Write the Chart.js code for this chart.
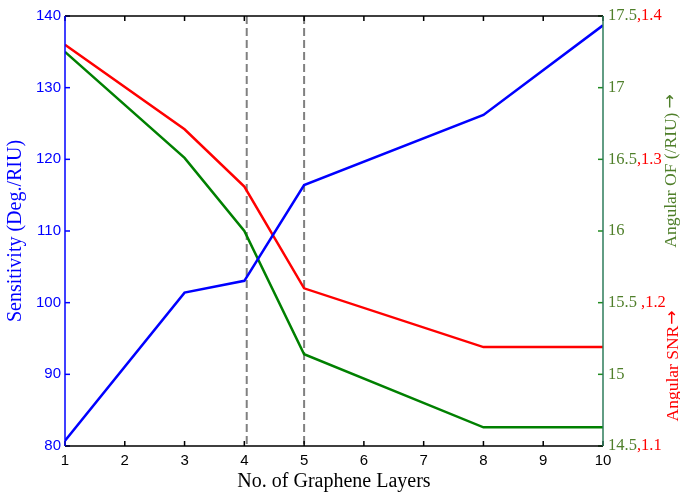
<!DOCTYPE html>
<html>
<head>
<meta charset="utf-8">
<script src="https://cdn.jsdelivr.net/npm/chart.js@4.4.1/dist/chart.umd.min.js"></script>
<style>
  html, body { margin: 0; padding: 0; background: #fff; }
  canvas { display: block; }
</style>
</head>
<body>
<canvas id="layersChart" width="680" height="495"></canvas>
<script>
// data
const layers = [1, 3, 4, 5, 8, 10];
const sensitivity = [80.75, 101.4, 103.05, 116.4, 126.2, 138.7];
const angularSNR = [1.380, 1.321, 1.281, 1.210, 1.169, 1.169];
const angularOF = [17.25, 16.51, 16.0, 15.14, 14.63, 14.63];
const markerLayers = [4.04, 5];
const ofTicks = [14.5, 15, 15.5, 16, 16.5, 17, 17.5];
const snrTickLabels = [',1.1', '', ' ,1.2', '', ',1.3', '', ',1.4'];

const OLIVE = '#4f7f2a';
const SERIF = '"Liberation Serif", "Times New Roman", serif';
const SANS = '"Liberation Sans", Arial, sans-serif';

const toPoints = (ys) => layers.map((x, i) => ({ x: x, y: ys[i] }));

// dashed markers, borders, inward ticks and the two-colour right axis
const framePlugin = {
    id: 'frame',
    beforeDatasetsDraw(chart) {
        const { ctx, chartArea: a, scales } = chart;
        ctx.save();
        ctx.strokeStyle = '#808080';
        ctx.lineWidth = 2;
        ctx.setLineDash([8, 4]);
        markerLayers.forEach(v => {
            const px = scales.x.getPixelForValue(v);
            ctx.beginPath();
            ctx.moveTo(px, a.top);
            ctx.lineTo(px, a.bottom);
            ctx.stroke();
        });
        ctx.restore();
    },
    afterDraw(chart) {
        const { ctx, chartArea: a, scales } = chart;
        ctx.save();
        ctx.lineWidth = 1.5;

        // x ticks, bottom and top
        ctx.strokeStyle = '#000';
        scales.x.ticks.forEach(t => {
            const px = scales.x.getPixelForValue(t.value);
            ctx.beginPath();
            ctx.moveTo(px, a.bottom); ctx.lineTo(px, a.bottom - 5);
            ctx.moveTo(px, a.top); ctx.lineTo(px, a.top + 5);
            ctx.stroke();
        });
        // left ticks
        ctx.strokeStyle = '#0000ff';
        scales.y.ticks.forEach(t => {
            const py = scales.y.getPixelForValue(t.value);
            ctx.beginPath();
            ctx.moveTo(a.left, py); ctx.lineTo(a.left + 5, py);
            ctx.stroke();
        });
        // right ticks
        ctx.strokeStyle = '#1f8a1f';
        ofTicks.forEach(v => {
            const py = scales.yOF.getPixelForValue(v);
            ctx.beginPath();
            ctx.moveTo(a.right, py); ctx.lineTo(a.right - 5, py);
            ctx.stroke();
        });

        // borders
        ctx.strokeStyle = '#000';
        ctx.beginPath();
        ctx.moveTo(a.left, a.top); ctx.lineTo(a.right, a.top);
        ctx.moveTo(a.left, a.bottom); ctx.lineTo(a.right, a.bottom);
        ctx.stroke();
        ctx.strokeStyle = '#0000ff';
        ctx.beginPath();
        ctx.moveTo(a.left, a.top); ctx.lineTo(a.left, a.bottom);
        ctx.stroke();
        ctx.strokeStyle = '#2e7d5b';
        ctx.beginPath();
        ctx.moveTo(a.right, a.top); ctx.lineTo(a.right, a.bottom);
        ctx.stroke();

        // right tick labels: OF in olive, SNR in red
        ctx.font = '16.5px ' + SERIF;
        ctx.textAlign = 'left';
        ctx.textBaseline = 'middle';
        ofTicks.forEach((v, i) => {
            const py = scales.yOF.getPixelForValue(v);
            const txt = String(v);
            ctx.fillStyle = OLIVE;
            ctx.fillText(txt, a.right + 5, py);
            if (snrTickLabels[i]) {
                ctx.fillStyle = '#ff0000';
                ctx.fillText(snrTickLabels[i], a.right + 5 + ctx.measureText(txt).width, py);
            }
        });

        // right axis titles, text plus a larger arrow
        const drawTitle = (text, gap, color, x, y) => {
            ctx.save();
            ctx.translate(x, y);
            ctx.rotate(-Math.PI / 2);
            ctx.textAlign = 'left';
            ctx.fillStyle = color;
            ctx.font = '17.5px ' + SERIF;
            const tw = ctx.measureText(text).width;
            ctx.font = '17px "DejaVu Sans", sans-serif';
            const aw = ctx.measureText('\u2192').width;
            const start = -(tw + gap + aw) / 2;
            ctx.font = '17.5px ' + SERIF;
            ctx.fillText(text, start, 0);
            ctx.font = '17px "DejaVu Sans", sans-serif';
            ctx.fillText('\u2192', start + tw + gap, 0);
            ctx.restore();
        };
        drawTitle('Angular OF (/RIU)', 4, OLIVE, 671, 171);
        drawTitle('Angular SNR', 1, '#ff0000', 673, 366);
        ctx.restore();
    }
};

new Chart(document.getElementById('layersChart'), {
    type: 'line',
    data: {
        datasets: [{
            label: 'Sensitivity',
            data: toPoints(sensitivity),
            borderColor: '#0000ff',
            borderWidth: 2.5,
            yAxisID: 'y',
        }, {
            label: 'Angular SNR',
            data: toPoints(angularSNR),
            borderColor: '#ff0000',
            borderWidth: 2.5,
            yAxisID: 'ySNR',
        }, {
            label: 'Angular OF',
            data: toPoints(angularOF),
            borderColor: '#008000',
            borderWidth: 2.5,
            yAxisID: 'yOF',
        }],
    },
    options: {
        responsive: false,
        animation: false,
        events: [],
        elements: {
            line: { tension: 0 },
            point: { radius: 0 },
        },
        layout: { padding: { top: 16, right: 77, left: 0, bottom: 0 } },
        plugins: {
            legend: { display: false },
            tooltip: { enabled: false },
        },
        scales: {
            x: {
                type: 'linear',
                min: 1,
                max: 10,
                grid: { display: false, drawTicks: false },
                border: { display: false },
                ticks: {
                    stepSize: 1,
                    color: '#000',
                    padding: 6,
                    font: { family: SANS, size: 15 },
                },
                title: {
                    display: true,
                    text: 'No. of Graphene Layers',
                    color: '#000',
                    padding: { top: 0, bottom: 1 },
                    font: { family: SERIF, size: 20 },
                },
                afterFit(scale) { scale.height = 49; },
            },
            y: {
                position: 'left',
                min: 80,
                max: 140,
                grid: { display: false, drawTicks: false },
                border: { display: false },
                ticks: {
                    stepSize: 10,
                    color: '#0000ff',
                    padding: 4,
                    font: { family: SANS, size: 15 },
                },
                title: {
                    display: true,
                    text: 'Sensitivity (Deg./RIU)',
                    color: '#0000ff',
                    padding: { top: 4, bottom: 0 },
                    font: { family: SERIF, size: 20 },
                },
                afterFit(scale) { scale.width = 65; },
            },
            yOF: {
                position: 'right',
                display: false,
                min: 14.5,
                max: 17.5,
            },
            ySNR: {
                position: 'right',
                display: false,
                min: 1.1,
                max: 1.4,
            },
        },
    },
    plugins: [framePlugin],
});
</script>
</body>
</html>
